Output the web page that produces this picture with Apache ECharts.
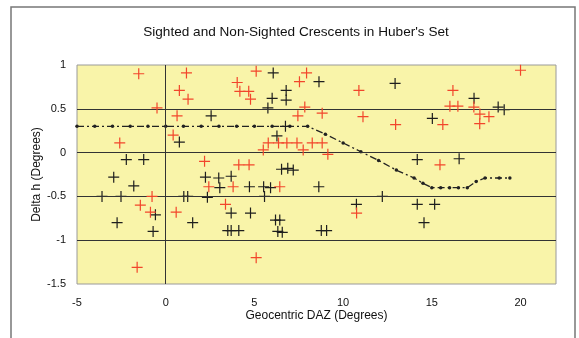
<!DOCTYPE html>
<html>
<head>
<meta charset="utf-8">
<script src="https://cdn.jsdelivr.net/npm/echarts@6/dist/echarts.min.js"></script>
<style>
	html, body { margin: 0; padding: 0; background: #fff; }
	#chart { width: 579px; height: 338px; }
</style>
</head>
<body>
<div id="chart"></div>
<script>
// sighted crescents [DAZ, delta h]
var sighted = [
	[-1.52, 0.90], [1.17, 0.91], [0.77, 0.71], [1.26, 0.61], [-0.49, 0.51], [0.64, 0.42],
	[0.42, 0.20], [-2.59, 0.11], [-0.77, -0.50], [-1.43, -0.60], [-0.86, -0.68], [0.59, -0.68],
	[-1.61, -1.31], [5.10, 0.93], [4.03, 0.80], [4.18, 0.70], [4.68, 0.70], [4.78, 0.61],
	[7.94, 0.91], [7.54, 0.81], [10.89, 0.71], [7.84, 0.52], [8.82, 0.45], [7.45, 0.42],
	[11.12, 0.41], [5.78, 0.11], [6.36, 0.11], [6.83, 0.11], [7.40, 0.11], [8.26, 0.11],
	[8.82, 0.11], [5.50, 0.03], [7.75, 0.03], [9.14, -0.02], [2.19, -0.10], [4.12, -0.14],
	[4.70, -0.14], [2.43, -0.39], [3.80, -0.39], [6.43, -0.39], [3.37, -0.59], [10.76, -0.69],
	[5.10, -1.20], [20.0, 0.94], [16.19, 0.71], [16.02, 0.53], [16.47, 0.53], [17.37, 0.52],
	[17.71, 0.44], [18.22, 0.41], [17.70, 0.33], [12.96, 0.32], [15.62, 0.32], [15.46, -0.14]
];

// non-sighted crescents
var notSighted = [
	[0.77, 0.12], [-2.22, -0.08], [-1.24, -0.08], [-2.93, -0.28], [-1.80, -0.38], [-3.59, -0.50],
	[-2.52, -0.50], [1.02, -0.50], [1.24, -0.50], [-0.58, -0.71], [-2.74, -0.80], [-0.71, -0.90],
	[1.52, -0.80], [6.06, 0.91], [8.64, 0.81], [6.79, 0.71], [6.79, 0.60], [6.00, 0.62],
	[5.76, 0.51], [2.56, 0.42], [6.75, 0.30], [6.27, 0.19], [6.53, -0.19], [6.88, -0.18],
	[7.19, -0.20], [2.24, -0.28], [2.99, -0.29], [3.69, -0.27], [3.05, -0.40], [4.72, -0.39],
	[5.52, -0.39], [5.91, -0.40], [8.63, -0.39], [2.35, -0.51], [5.57, -0.50], [12.21, -0.50],
	[10.75, -0.59], [3.69, -0.69], [4.78, -0.69], [6.19, -0.77], [6.43, -0.77], [3.50, -0.89],
	[3.69, -0.89], [4.12, -0.89], [6.32, -0.90], [6.57, -0.91], [8.77, -0.89], [9.07, -0.89],
	[12.93, 0.79], [17.38, 0.62], [18.74, 0.52], [19.08, 0.49], [15.03, 0.39], [14.18, -0.08],
	[16.54, -0.07], [14.18, -0.59], [15.16, -0.59], [14.56, -0.80]
];

// dash-dot limit curve
var limitX = [-5, -4, -3, -2, -1, 0, 1, 2, 3, 4, 5, 6, 7, 8, 9, 10, 11, 12, 13, 14, 14.5, 15, 15.5, 16, 16.5, 17, 17.5, 18, 18.8, 19.4];
var limitY = [0.3, 0.3, 0.3, 0.3, 0.3, 0.3, 0.3, 0.3, 0.3, 0.3, 0.3, 0.3, 0.3, 0.3, 0.21, 0.11, 0.01, -0.09, -0.2, -0.29, -0.35, -0.4, -0.4, -0.4, -0.4, -0.4, -0.33, -0.29, -0.29, -0.29];

var gridLevels = [0.5, 0, -0.5, -1];

var plus = 'path://M4.9,0h1.2v11h-1.2zM0,4.9h11v1.2h-11z';
var font = 'Liberation Sans';

var myChart = echarts.init(document.getElementById('chart'));

var limitData = [];
for (var i = 0; i < limitX.length; i++) {
	limitData.push([limitX[i], limitY[i]]);
}

var guides = [];
for (var j = 0; j < gridLevels.length; j++) {
	guides.push({ yAxis: gridLevels[j] });
}
guides.push({ xAxis: 0 });

var option = {
	backgroundColor: '#fff',
	animation: false,
	title: {
		text: "Sighted and Non-Sighted Crescents in Huber's Set",
		left: 291,
		top: 20,
		textAlign: 'center',
		textStyle: { fontFamily: font, fontSize: 13.6, fontWeight: 'normal', color: '#111' }
	},
	graphic: [{
		type: 'rect',
		shape: { x: 11, y: 7, width: 564, height: 340 },
		style: { fill: 'none', stroke: '#777', lineWidth: 1.5 },
		silent: true
	}],
	grid: {
		left: 77, right: 23, top: 65, bottom: 54,
		show: true,
		backgroundColor: '#f9f4a9',
		borderColor: '#9a9a9a',
		borderWidth: 1
	},
	xAxis: {
		type: 'value',
		min: -5, max: 22, interval: 5,
		name: 'Geocentric DAZ (Degrees)',
		nameLocation: 'middle',
		nameGap: 26,
		nameMoveOverlap: false,
		nameTextStyle: { fontFamily: font, fontSize: 12, color: '#111' },
		axisLine: { show: false },
		axisTick: { show: false },
		splitLine: { show: false },
		axisLabel: { fontFamily: font, fontSize: 11, color: '#111', margin: 13, showMaxLabel: false }
	},
	yAxis: {
		type: 'value',
		min: -1.5, max: 1, interval: 0.5,
		name: 'Delta h (Degrees)',
		nameLocation: 'middle',
		nameGap: 34,
		nameMoveOverlap: false,
		nameTextStyle: { fontFamily: font, fontSize: 12, color: '#111' },
		axisLine: { show: false },
		axisTick: { show: false },
		splitLine: { show: false },
		axisLabel: { fontFamily: font, fontSize: 11, color: '#111', margin: 11 }
	},
	series: [
		{
			type: 'line',
			data: [],
			silent: true,
			markLine: {
				silent: true,
				symbol: 'none',
				label: { show: false },
				lineStyle: { color: '#333', width: 1, type: 'solid' },
				data: guides
			}
		},
		{
			name: 'Limit',
			type: 'line',
			data: limitData,
			symbol: 'circle',
			symbolSize: 3.5,
			itemStyle: { color: '#222' },
			lineStyle: { color: '#222', width: 1.3, type: [7, 3, 2, 3] },
			z: 3
		},
		{
			name: 'Not sighted',
			type: 'scatter',
			data: notSighted,
			symbol: plus,
			symbolSize: 11,
			itemStyle: { color: '#1e1e1e', opacity: 1 },
			z: 4
		},
		{
			name: 'Sighted',
			type: 'scatter',
			data: sighted,
			symbol: plus,
			symbolSize: 11,
			itemStyle: { color: '#f2452b', opacity: 1 },
			z: 5
		}
	]
};
myChart.setOption(option);
</script>
</body>
</html>
